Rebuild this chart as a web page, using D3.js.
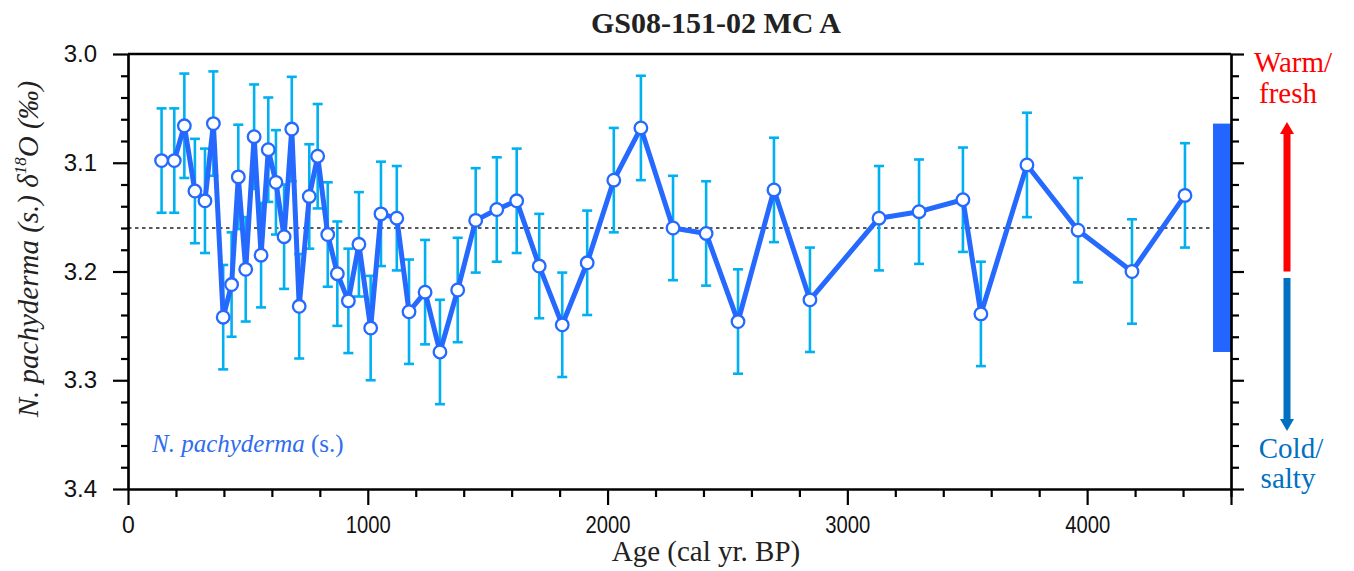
<!DOCTYPE html>
<html>
<head>
<meta charset="utf-8">
<script src="https://cdn.jsdelivr.net/npm/d3@7"></script>
<style>
  body { margin: 0; background: #fff; }
  svg { display: block; }
</style>
</head>
<body>
<div id="chart"></div>
<script>
const FRAME_WIDTH = 1354;
const FRAME_HEIGHT = 571;
const MARGINS = { left: 128, right: 123, top: 54, bottom: 82 };

// ages (cal yr BP) and N. pachyderma (s.) d18O values
const AGES = [140, 193, 235, 279, 321, 356, 397, 432, 460, 491, 526, 555, 585, 617,
  651, 683, 714, 756, 791, 833, 873, 919, 963, 1012, 1055, 1121, 1172, 1239, 1301,
  1375, 1450, 1538, 1621, 1715, 1811, 1915, 2026, 2139, 2273, 2411, 2544, 2694, 2844,
  3132, 3299, 3482, 3557, 3749, 3962, 4187, 4408];
const D18O = [3.098, 3.098, 3.066, 3.126, 3.135, 3.064, 3.242, 3.212, 3.113, 3.198,
  3.076, 3.185, 3.088, 3.118, 3.168, 3.069, 3.232, 3.131, 3.094, 3.166, 3.202, 3.227,
  3.175, 3.252, 3.147, 3.151, 3.237, 3.219, 3.274, 3.217, 3.153, 3.143, 3.135, 3.195,
  3.249, 3.192, 3.116, 3.068, 3.160, 3.165, 3.246, 3.125, 3.226, 3.151, 3.145, 3.134,
  3.239, 3.102, 3.162, 3.200, 3.130];
const ERR = 0.048; // error bar half-length, same for every sample
const MEAN = 3.16;
const RANGE = [d3.min(D18O), d3.max(D18O)];

const X_TICKS = [0, 1000, 2000, 3000, 4000];
const Y_TICKS = [3.0, 3.1, 3.2, 3.3, 3.4];

const VIS_WIDTH = FRAME_WIDTH - MARGINS.left - MARGINS.right;
const VIS_HEIGHT = FRAME_HEIGHT - MARGINS.top - MARGINS.bottom;

const X_SCALE = d3.scaleLinear().domain([0, 4600]).range([MARGINS.left, MARGINS.left + VIS_WIDTH]);
const Y_SCALE = d3.scaleLinear().domain([3.0, 3.4]).range([MARGINS.top, MARGINS.top + VIS_HEIGHT]);

const data = AGES.map((a, i) => ({ age: a, v: D18O[i] }));

const svg = d3.select("#chart")
  .append("svg")
  .attr("width", FRAME_WIDTH)
  .attr("height", FRAME_HEIGHT);

// dotted mean line, stops at the range bar
svg.append("line")
  .attr("x1", X_SCALE(0))
  .attr("x2", X_SCALE(4525))
  .attr("y1", Y_SCALE(MEAN))
  .attr("y2", Y_SCALE(MEAN))
  .attr("stroke", "#222")
  .attr("stroke-width", 1.6)
  .attr("stroke-dasharray", "3.5,3.5");

// range bar on the right
svg.append("rect")
  .attr("x", X_SCALE(4525))
  .attr("width", X_SCALE(4600) - X_SCALE(4525))
  .attr("y", Y_SCALE(RANGE[0]))
  .attr("height", Y_SCALE(RANGE[1]) - Y_SCALE(RANGE[0]))
  .attr("fill", "#2266ff");

// error bars
const eb = svg.append("g")
  .attr("stroke", "#00b0f0")
  .attr("stroke-width", 2.6);

eb.selectAll("line.v")
  .data(data)
  .enter()
  .append("line")
  .attr("x1", (d) => X_SCALE(d.age))
  .attr("x2", (d) => X_SCALE(d.age))
  .attr("y1", (d) => Y_SCALE(d.v - ERR))
  .attr("y2", (d) => Y_SCALE(d.v + ERR));

[-1, 1].forEach((s) => {
  eb.selectAll("line.cap" + (s + 1))
    .data(data)
    .enter()
    .append("line")
    .attr("x1", (d) => X_SCALE(d.age) - 5)
    .attr("x2", (d) => X_SCALE(d.age) + 5)
    .attr("y1", (d) => Y_SCALE(d.v + s * ERR))
    .attr("y2", (d) => Y_SCALE(d.v + s * ERR));
});

// series line
svg.append("path")
  .datum(data)
  .attr("fill", "none")
  .attr("stroke", "#2569ff")
  .attr("stroke-width", 5)
  .attr("stroke-linejoin", "round")
  .attr("d", d3.line().x((d) => X_SCALE(d.age)).y((d) => Y_SCALE(d.v)));

svg.selectAll("circle.pt")
  .data(data)
  .enter()
  .append("circle")
  .attr("cx", (d) => X_SCALE(d.age))
  .attr("cy", (d) => Y_SCALE(d.v))
  .attr("r", 6.3)
  .attr("fill", "#fff")
  .attr("stroke", "#2569ff")
  .attr("stroke-width", 2.3);

// axes
const minorX = d3.range(0, 4601, 200).filter((t) => t % 1000 !== 0);
const minorY = d3.range(3.0, 3.4001, 0.02).filter((t) => Math.abs(t * 10 - Math.round(t * 10)) > 0.01);

function styleAxis(g) {
  g.select(".domain").attr("stroke", "#000").attr("stroke-width", 2.2);
  g.selectAll(".tick line").attr("stroke", "#000").attr("stroke-width", 2.2);
}

// bottom
svg.append("g")
  .attr("transform", "translate(0," + (MARGINS.top + VIS_HEIGHT) + ")")
  .call(d3.axisBottom(X_SCALE).tickValues(minorX).tickSize(8).tickFormat("").tickSizeOuter(0))
  .call(styleAxis);
svg.append("g")
  .attr("transform", "translate(0," + (MARGINS.top + VIS_HEIGHT) + ")")
  .call(d3.axisBottom(X_SCALE).tickValues(X_TICKS.concat([4600])).tickSize(16).tickPadding(12)
    .tickFormat((d) => (d === 4600 ? "" : d)).tickSizeOuter(0))
  .call(styleAxis)
  .call((g) => g.selectAll("text")
    .attr("font-family", "'Liberation Sans Narrow', 'Arial Narrow', 'Liberation Sans', sans-serif")
    .attr("font-size", 23)
    .attr("fill", "#111")
    .attr("textLength", (d) => (d >= 1000 ? 45 : null))
    .attr("lengthAdjust", "spacingAndGlyphs"));

// top border
svg.append("line")
  .attr("x1", X_SCALE(0)).attr("x2", X_SCALE(4600))
  .attr("y1", MARGINS.top).attr("y2", MARGINS.top)
  .attr("stroke", "#000").attr("stroke-width", 2.4);

// left
svg.append("g")
  .attr("transform", "translate(" + MARGINS.left + ",0)")
  .call(d3.axisLeft(Y_SCALE).tickValues(minorY).tickSize(7).tickFormat("").tickSizeOuter(0))
  .call(styleAxis);
svg.append("g")
  .attr("transform", "translate(" + MARGINS.left + ",0)")
  .call(d3.axisLeft(Y_SCALE).tickValues(Y_TICKS).tickSize(15).tickPadding(16)
    .tickFormat(d3.format(".1f")).tickSizeOuter(0))
  .call(styleAxis)
  .call((g) => g.selectAll("text")
    .attr("font-family", "'Liberation Sans', Arial, sans-serif")
    .attr("font-size", 24)
    .attr("fill", "#111"));

// right
svg.append("g")
  .attr("transform", "translate(" + (MARGINS.left + VIS_WIDTH) + ",0)")
  .call(d3.axisRight(Y_SCALE).tickValues(minorY).tickSize(8).tickFormat("").tickSizeOuter(0))
  .call(styleAxis);
svg.append("g")
  .attr("transform", "translate(" + (MARGINS.left + VIS_WIDTH) + ",0)")
  .call(d3.axisRight(Y_SCALE).tickValues(Y_TICKS).tickSize(13).tickFormat("").tickSizeOuter(0))
  .call(styleAxis);

// title
svg.append("text")
  .attr("x", 716)
  .attr("y", 33)
  .attr("text-anchor", "middle")
  .attr("font-family", "'Liberation Serif', 'Times New Roman', serif")
  .attr("font-weight", "bold")
  .attr("font-size", 30)
  .attr("fill", "#222")
  .text("GS08-151-02 MC A");

// x label
svg.append("text")
  .attr("x", 706)
  .attr("y", 561)
  .attr("text-anchor", "middle")
  .attr("font-family", "'Liberation Serif', 'Times New Roman', serif")
  .attr("font-size", 29)
  .attr("fill", "#222")
  .text("Age (cal yr. BP)");

// y label
const yl = svg.append("text")
  .attr("transform", "translate(38,249) rotate(-90)")
  .attr("text-anchor", "middle")
  .attr("font-family", "'Liberation Serif', 'Times New Roman', serif")
  .attr("font-style", "italic")
  .attr("font-size", 29)
  .attr("fill", "#222");
yl.append("tspan").text("N. pachyderma (s.) \u03B4");
yl.append("tspan").attr("font-size", 17).attr("dy", -12).text("18");
yl.append("tspan").attr("dy", 12).text("O (\u2030)");

// series label
const sl = svg.append("text")
  .attr("x", 152)
  .attr("y", 452)
  .attr("font-family", "'Liberation Serif', 'Times New Roman', serif")
  .attr("font-size", 25)
  .attr("fill", "#2f6cf0");
sl.append("tspan").attr("font-style", "italic").text("N. pachyderma");
sl.append("tspan").text(" (s.)");

// warm / cold arrows
const ARROW_X = 1287;
svg.append("line")
  .attr("x1", ARROW_X).attr("x2", ARROW_X)
  .attr("y1", Y_SCALE(3.2)).attr("y2", 133)
  .attr("stroke", "#ff0000").attr("stroke-width", 7);
svg.append("path")
  .attr("d", d3.line()([[ARROW_X - 7, 134], [ARROW_X + 7, 134], [ARROW_X, 122]]))
  .attr("fill", "#ff0000");

svg.append("line")
  .attr("x1", ARROW_X).attr("x2", ARROW_X)
  .attr("y1", 278).attr("y2", 420)
  .attr("stroke", "#0070c0").attr("stroke-width", 7);
svg.append("path")
  .attr("d", d3.line()([[ARROW_X - 7, 419], [ARROW_X + 7, 419], [ARROW_X, 431]]))
  .attr("fill", "#0070c0");

const textLines = [
  { t: "Warm/", x: 1293, y: 72, c: "#ff0000" },
  { t: "fresh", x: 1288, y: 103, c: "#ff0000" },
  { t: "Cold/", x: 1291, y: 458, c: "#0070c0" },
  { t: "salty", x: 1288, y: 488, c: "#0070c0" },
];
svg.selectAll("text.note")
  .data(textLines)
  .enter()
  .append("text")
  .attr("x", (d) => d.x)
  .attr("y", (d) => d.y)
  .attr("text-anchor", "middle")
  .attr("font-family", "'Liberation Serif', 'Times New Roman', serif")
  .attr("font-size", 29)
  .attr("fill", (d) => d.c)
  .text((d) => d.t);
</script>
</body>
</html>
